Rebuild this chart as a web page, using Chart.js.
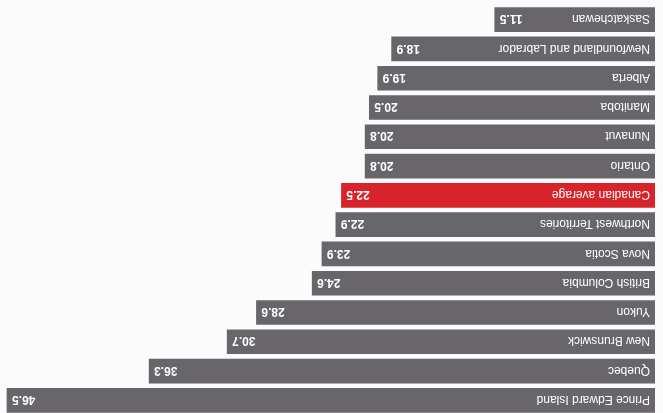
<!DOCTYPE html>
<html lang="en">
<head>
  <meta charset="UTF-8">
  <title>Provinces and territories vs Canadian average</title>
  <script src="https://cdn.jsdelivr.net/npm/chart.js"></script>
  <style>
    html, body { margin: 0; padding: 0; background: #fbfbfb; overflow: hidden; }
    /* the reference photo is upside down, so the whole chart is turned round */
    #wrap { position: absolute; left: 0; top: 0; width: 663px; height: 413px; overflow: hidden; transform: rotate(180deg); }
    #box { position: absolute; left: 0; top: -2px; width: 663px; height: 410px; }
  </style>
</head>
<body>
  <div id="wrap">
    <div id="box">
      <canvas id="rateChart" width="663" height="410"></canvas>
    </div>
  </div>

  <script>
    // categories, highest first (top of the unturned chart)
    const regions = [
      'Prince Edward Island', 'Quebec', 'New Brunswick', 'Yukon', 'British Columbia',
      'Nova Scotia', 'Northwest Territories', 'Canadian average', 'Ontario', 'Nunavut',
      'Manitoba', 'Alberta', 'Newfoundland and Labrador', 'Saskatchewan'
    ];
    const values = [46.5, 36.3, 30.7, 28.6, 24.6, 23.9, 22.9, 22.5, 20.8, 20.8, 20.5, 19.9, 18.9, 11.5];
    const highlight = 'Canadian average';

    const grey = '#68666b';
    const red = '#d8232a';

    // writes the region name at the start of each bar and the value at its end
    const barText = {
      id: 'barText',
      afterDatasetsDraw(chart) {
        const ctx = chart.ctx;
        const meta = chart.getDatasetMeta(0);
        ctx.save();
        ctx.fillStyle = '#ffffff';
        ctx.textBaseline = 'middle';
        meta.data.forEach((bar, i) => {
          ctx.font = '12px "Liberation Sans", Arial, sans-serif';
          ctx.textAlign = 'left';
          ctx.fillText(regions[i], bar.base + 5, bar.y + 1);
          ctx.font = 'bold 12px "Liberation Sans", Arial, sans-serif';
          ctx.textAlign = 'right';
          ctx.fillText(values[i].toFixed(1), bar.x - 5, bar.y + 1);
        });
        ctx.restore();
      }
    };

    new Chart(document.getElementById('rateChart'), {
      type: 'bar',
      data: {
        labels: regions,
        datasets: [{
          data: values,
          backgroundColor: regions.map(r => r === highlight ? red : grey),
          borderWidth: 0,
          barThickness: 24
        }]
      },
      options: {
        indexAxis: 'y',
        responsive: false,
        animation: false,
        layout: { padding: { left: 8, right: 0, top: 0, bottom: 0 } },
        scales: {
          x: { display: false, min: 0, max: 47 },
          y: { display: false }
        },
        plugins: {
          legend: { display: false },
          tooltip: { enabled: false }
        }
      },
      plugins: [barText]
    });
  </script>
</body>
</html>
